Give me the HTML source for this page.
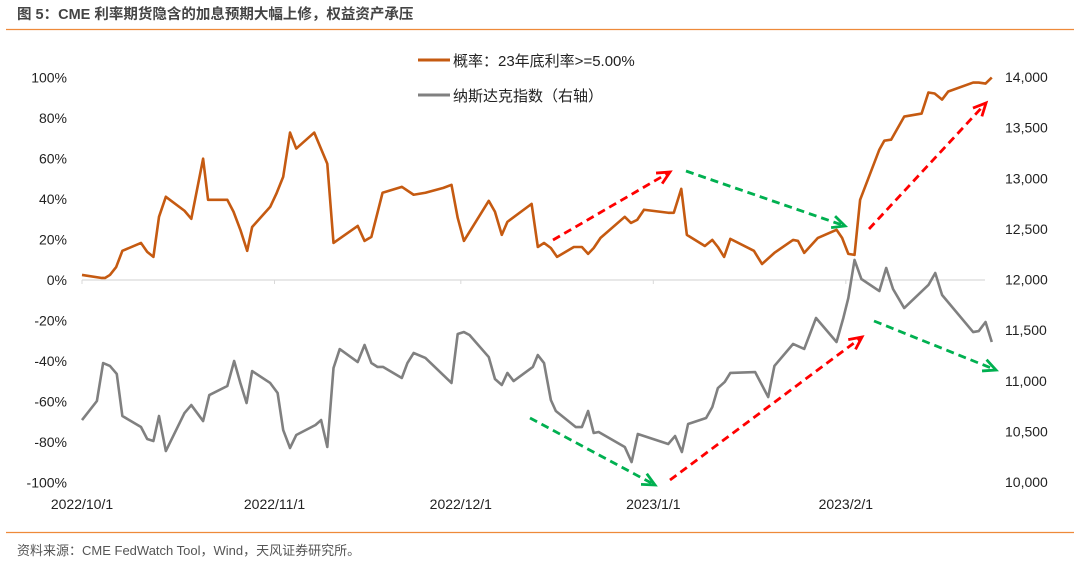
<!DOCTYPE html>
<html><head><meta charset="utf-8">
<style>
html,body{margin:0;padding:0;background:#fff;width:1080px;height:566px;overflow:hidden}
body{font-family:"Liberation Sans","Noto Sans CJK SC",sans-serif;}
</style></head>
<body>
<svg id="chart" width="1080" height="566" xmlns="http://www.w3.org/2000/svg" style="font-family:'Liberation Sans','Noto Sans CJK SC',sans-serif">
<text x="17" y="19" font-size="14.5" font-weight="bold" fill="#444">图 5：CME 利率期货隐含的加息预期大幅上修，权益资产承压</text>
<line x1="6" y1="29.5" x2="1074" y2="29.5" stroke="#ee8a3a" stroke-width="1.2"/>
<line x1="6" y1="532.5" x2="1074" y2="532.5" stroke="#ee8a3a" stroke-width="1.2"/>
<text x="17" y="555" font-size="13" fill="#555">资料来源：CME FedWatch Tool，Wind，天风证券研究所。</text>
<g id="axes"></g>
<g id="series"></g>
<g id="arrows"></g>
<g>
<line x1="418" y1="60" x2="450" y2="60" stroke="#c55a11" stroke-width="3"/>
<text x="453" y="66" font-size="15" fill="#222">概率：23年底利率&gt;=5.00%</text>
<line x1="418" y1="95" x2="450" y2="95" stroke="#808080" stroke-width="3"/>
<text x="453" y="101" font-size="15" fill="#222">纳斯达克指数（右轴）</text>
</g>
</svg>
<script>
const probDays=[0,3.2,3.7,4.5,5.5,6.5,9.5,10.5,11.5,12.4,13.5,16.5,17.6,19.5,20.3,23.4,24.4,25.5,26.6,27.4,30.3,31.3,32.4,33.5,34.5,37.4,39.5,40.5,41.9,44.4,45.5,46.6,48.4,51.5,53.4,55.3,58.2,59.5,60.5,61.5,65.5,66.5,67.6,68.5,72.4,73.4,74.4,75.5,76.5,79.2,80.5,81.5,82.4,83.5,87.4,88.4,89.4,90.5,94.4,95.3,96.5,97.4,100.3,101.5,102.4,103.4,104.4,108.2,109.5,111.5,114.5,115.3,116.3,118.5,121.5,122.4,123.4,124.4,125.3,128.4,129.2,130.3,132.4,135.2,136.3,137.3,138.5,139.5,143.5,144.4,145.5,146.5];
const probValues=[2.5,1.0,1.0,2.5,6.4,14.4,18.3,13.9,11.4,31.2,41.1,34.2,30.2,59.9,39.6,39.6,33.7,24.8,14.4,26.2,36.1,42.6,51.0,72.8,64.9,72.8,57.4,18.3,21.3,26.7,19.3,21.3,43.1,46.0,42.1,43.1,45.5,47.0,30.7,19.3,39.1,33.7,22.3,28.7,37.6,16.3,18.3,15.8,11.4,16.3,16.3,12.9,15.8,20.8,31.2,28.2,29.7,34.7,33.2,33.2,45.0,22.3,16.8,19.8,16.3,11.4,20.3,14.4,7.9,13.4,19.8,19.3,13.4,20.8,24.8,20.8,12.9,12.4,39.6,64.4,68.8,69.3,80.7,82.2,92.6,92.1,89.1,93.1,97.5,97.5,97.0,100.0];
const ndxDays=[0,2.4,3.4,4.5,5.6,6.5,9.5,10.5,11.5,12.4,13.5,16.5,17.6,19.5,20.5,23.4,24.5,25.5,26.5,27.4,30.3,31.5,32.4,33.5,34.5,37.6,38.5,39.5,40.5,41.5,44.4,45.5,46.6,47.6,48.5,51.5,52.4,53.4,55.3,59.5,60.5,61.5,62.4,65.5,66.5,67.6,68.5,69.5,72.6,73.4,74.4,75.5,76.3,79.5,80.5,81.5,82.4,83.2,87.4,88.5,89.5,94.4,95.5,96.6,97.6,100.5,101.5,102.4,103.5,104.4,108.4,110.5,111.5,114.5,116.3,118.2,121.5,122.6,123.4,124.4,125.5,128.4,129.5,130.6,132.4,136.3,137.4,138.5,143.5,144.4,145.5,146.5];
const ndxValues=[10612,10800,11175,11146,11067,10652,10543,10425,10405,10652,10306,10681,10760,10602,10859,10948,11195,10978,10780,11096,10978,10879,10513,10336,10464,10563,10612,10346,11126,11313,11185,11353,11175,11136,11136,11027,11175,11274,11225,10978,11462,11481,11452,11234,11017,10958,11077,10997,11136,11254,11175,10810,10701,10543,10543,10701,10484,10494,10346,10197,10474,10375,10454,10296,10573,10632,10741,10928,10988,11077,11086,10839,11146,11363,11314,11620,11383,11620,11817,12193,12005,11886,12114,11906,11718,11946,12064,11847,11481,11491,11580,11383];
const leftTicks=[100,80,60,40,20,0,-20,-40,-60,-80,-100];
const rightTicks=[14000,13500,13000,12500,12000,11500,11000,10500,10000];
const xTickLabels=["2022/10/1","2022/11/1","2022/12/1","2023/1/1","2023/2/1"];
const xTickDays=[0,31,61,92,123];

const NS="http://www.w3.org/2000/svg";
const X0=82,PXD=6.21;
const xS=d=>X0+d*PXD;
const yL=v=>280-v*2.025;
const yR=v=>482-(v-10000)*0.10125;
function mk(tag,attrs,parent){const e=document.createElementNS(NS,tag);for(const k in attrs)e.setAttribute(k,attrs[k]);parent.appendChild(e);return e;}
const axes=document.getElementById('axes');
const zl=mk('line',{x1:X0,y1:yL(0),x2:985,y2:yL(0),stroke:'#d9d9d9','stroke-width':1.2},axes);


leftTicks.forEach(v=>{const t=mk('text',{x:67,y:yL(v)+5,'font-size':14,fill:'#222','text-anchor':'end'},axes);t.textContent=v+'%';

});
rightTicks.forEach(v=>{const t=mk('text',{x:1005,y:yR(v)+5,'font-size':14,fill:'#222'},axes);t.textContent=v.toLocaleString('en-US');

});
xTickDays.forEach((d,i)=>{const tk=mk('line',{x1:xS(d),y1:yL(0),x2:xS(d),y2:yL(0)+4,stroke:'#d9d9d9'},axes);


const t=mk('text',{x:xS(d),y:509,'font-size':14,fill:'#222','text-anchor':'middle'},axes);t.textContent=xTickLabels[i];

});
const ser=document.getElementById('series');
const p1=mk('polyline',{points:probDays.map((d,i)=>xS(d)+','+yL(probValues[i])).join(' '),fill:'none',stroke:'#c55a11','stroke-width':2.6,'stroke-linejoin':'round'},ser);


const p2=mk('polyline',{points:ndxDays.map((d,i)=>xS(d)+','+yR(ndxValues[i])).join(' '),fill:'none',stroke:'#808080','stroke-width':2.6,'stroke-linejoin':'round'},ser);


const ar=document.getElementById('arrows');
const arrowDefs=[[553,240,670,172,'#ff0000'],[686,171,845,226,'#00b050'],[869,229,986,103,'#ff0000'],[874,321,996,370,'#00b050'],[530,418,655,485,'#00b050'],[670,480,862,337,'#ff0000']];
arrowDefs.forEach(a=>{const [x1,y1,x2,y2,c]=a;const g=mk('g',{},ar);


mk('line',{x1,y1,x2,y2,stroke:c,'stroke-width':2.8,'stroke-dasharray':'8,5'},g);
const ang=Math.atan2(y2-y1,x2-x1),L=14,w=0.45;
const ax=x2-L*Math.cos(ang-w),ay=y2-L*Math.sin(ang-w),bx=x2-L*Math.cos(ang+w),by=y2-L*Math.sin(ang+w);
mk('polyline',{points:`${ax},${ay} ${x2},${y2} ${bx},${by}`,fill:'none',stroke:c,'stroke-width':2.8},g);});
</script>
</body></html>
